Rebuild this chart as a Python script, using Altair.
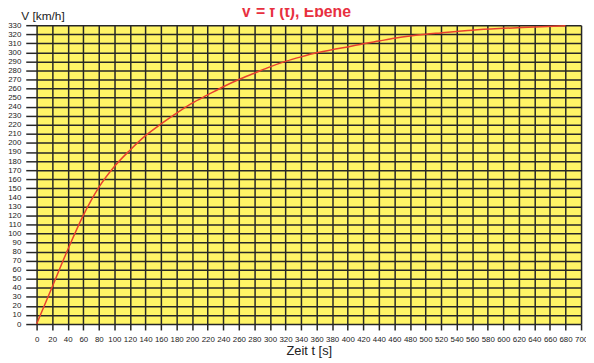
import altair as alt
import pandas as pd

# Data
t_values = [0, 20, 40, 60, 80, 100, 120, 140, 160, 180, 200, 220, 240, 260, 280,
            300, 320, 340, 360, 380, 400, 420, 440, 460, 480, 500, 520, 540, 560,
            600, 640, 680]
v_values = [0, 41, 82, 120, 151, 174, 192, 208, 221, 233, 244, 253, 262, 270, 277,
            284, 290, 295, 299.5, 303, 306, 309.5, 312.5, 315.5, 318, 320, 321.5,
            323, 324.5, 326.5, 328, 329.5]
x_ticks = list(range(0, 701, 20))
y_ticks = list(range(0, 331, 10))
title_text = "V = f (t), Ebene"
x_title = "Zeit t [s]"
y_title = "V  [km/h]"

df = pd.DataFrame({"t": t_values, "v": v_values})

FONT = "Liberation Sans"
GRID = "#262626"

x_axis = alt.Axis(values=x_ticks, grid=True, gridColor=GRID, gridWidth=1.5,
                  gridOpacity=1, tickColor=GRID, tickWidth=1.5, tickSize=6,
                  domain=False, labelFontSize=8, labelFont=FONT, labelColor="#222",
                  labelPadding=6, labelOverlap=False, labelFlush=False,
                  title=x_title, titleFont=FONT, titleFontSize=13,
                  titleFontWeight="normal", titleColor="#222",
                  titleY=31, titleBaseline="alphabetic")
y_axis = alt.Axis(values=y_ticks, grid=True, gridColor=GRID, gridWidth=1.5,
                  gridOpacity=1, tickColor=GRID, tickWidth=1.5, tickSize=11,
                  domain=False, labelFontSize=8, labelFont=FONT, labelColor="#222",
                  labelPadding=5, labelOverlap=False, labelFlush=False,
                  title=y_title, titleFont=FONT, titleFontSize=12,
                  titleFontWeight="normal", titleColor="#222", titleAngle=0,
                  titleX=-16, titleY=-6, titleAlign="left",
                  titleBaseline="alphabetic")

line = alt.Chart(df).mark_line(color="#e8402e", strokeWidth=1.5,
                               interpolate="monotone").encode(
    x=alt.X("t:Q", scale=alt.Scale(domain=[0, 700], nice=False), axis=x_axis),
    y=alt.Y("v:Q", scale=alt.Scale(domain=[0, 330], nice=False), axis=y_axis),
)

title = alt.Chart(pd.DataFrame({"label": [title_text]})).mark_text(
    font=FONT, fontSize=16, fontWeight="bold", color="#e8303f",
    align="center", baseline="alphabetic"
).encode(text="label:N", x=alt.value(263), y=alt.value(-8))

chart = alt.layer(line, title).properties(
    width=552, height=303,
    autosize=alt.AutoSizeParams(type="none"),
    padding={"left": 29, "top": 15, "right": 5, "bottom": 33},
).configure_view(fill="#fff466", stroke=None)

chart.save("out.html", embed_options={"renderer": "svg", "actions": False})
